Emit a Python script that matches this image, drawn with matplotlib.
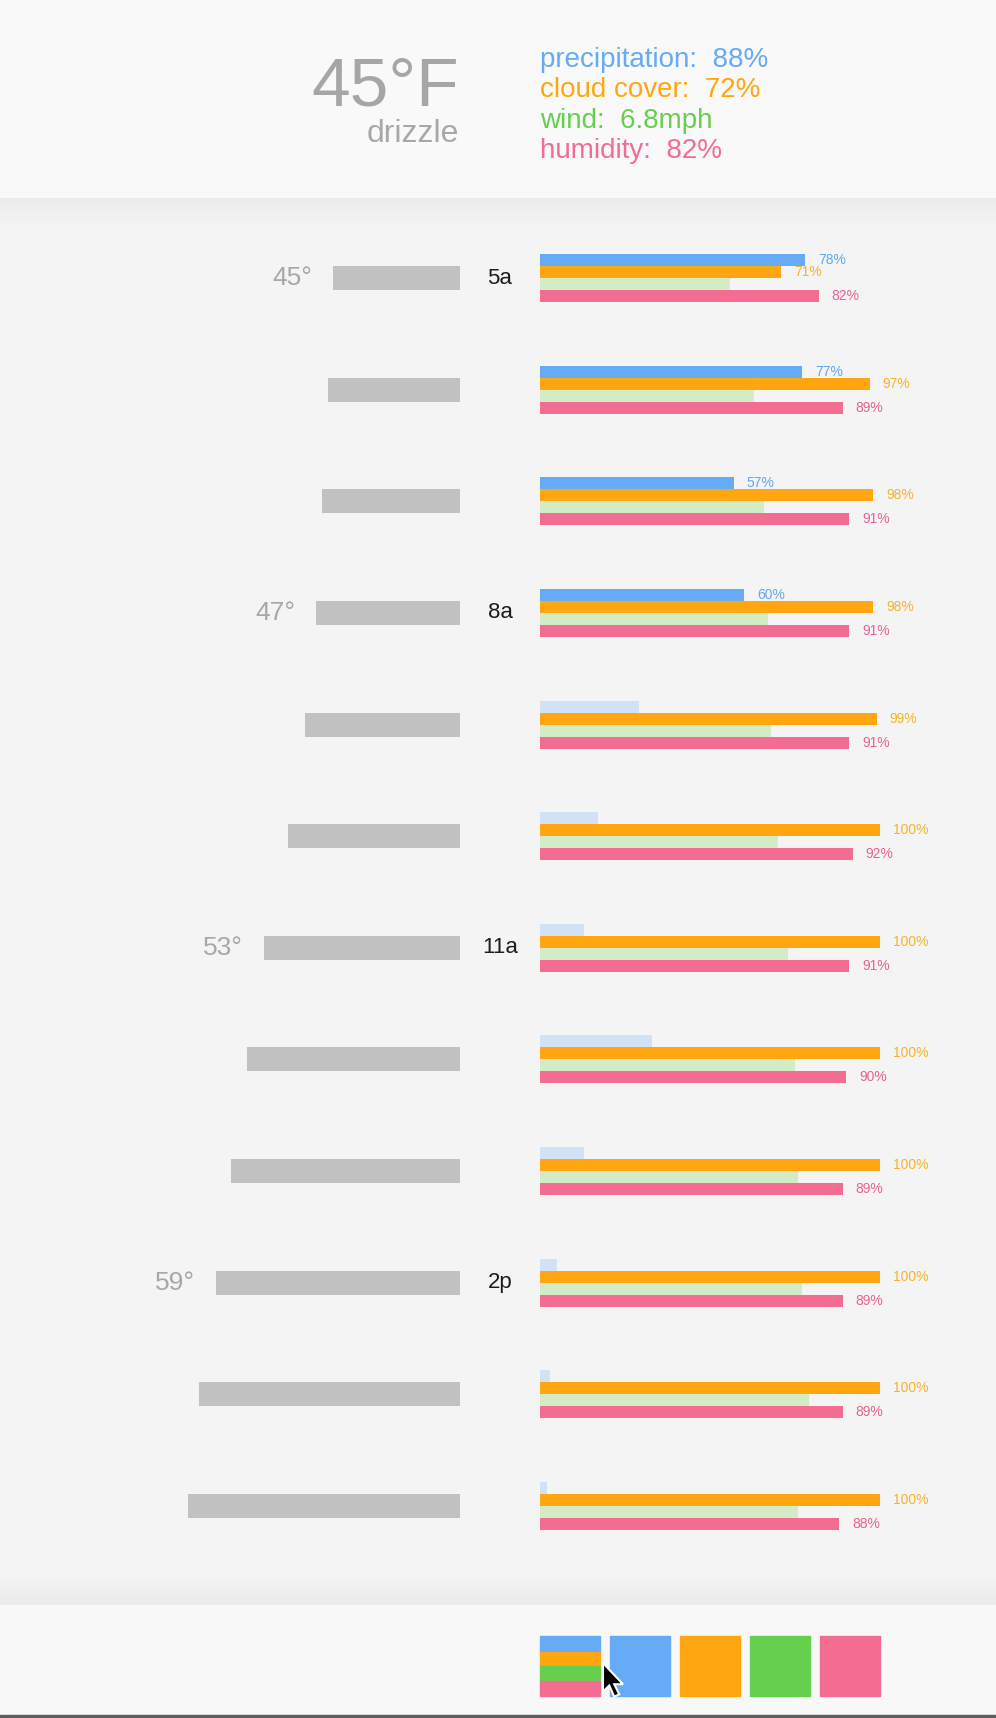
import numpy as np
import matplotlib
matplotlib.use("Agg")
import matplotlib.pyplot as plt
from matplotlib.patches import Rectangle, Polygon

plt.rcParams['font.family'] = ['Liberation Sans', 'DejaVu Sans']

# hourly data (5a .. 4p)
temps = [45.0, 45.6, 46.3, 47.0, 48.3, 50.4, 53.2, 55.2, 57.2, 59.0, 61.0, 62.3]
time_labels = {0: "5a", 3: "8a", 6: "11a", 9: "2p"}
precip = [78, 77, 57, 60, 29, 17, 13, 33, 13, 5, 3, 2]
cloud = [71, 97, 98, 98, 99, 100, 100, 100, 100, 100, 100, 100]
wind = [56, 63, 66, 67, 68, 70, 73, 75, 76, 77, 79, 76]
humidity = [82, 89, 91, 91, 91, 92, 91, 90, 89, 89, 89, 88]

# current conditions
now_temp = "45°F"
now_summary = "drizzle"
now_lines = ["precipitation:  88%", "cloud cover:  72%", "wind:  6.8mph", "humidity:  82%"]

BLUE, ORANGE, GREEN, PINK = "#65abf5", "#ffa611", "#67cf4e", "#f36d92"
LIGHT_BLUE, LIGHT_GREEN = "#d2e2f6", "#d4ecc6"
LABEL_COLORS = ["#5fa8f2", "#f5b52c", "#67cf4e", "#e9638a"]
GREY_BAR = "#c1c1c1"
GREY_TEXT = "#a8a8a8"

W, H = 996, 1718
fig = plt.figure(figsize=(W / 100, H / 100), dpi=100)


def px_axes(x0, y0, x1, y1, **kw):
    return fig.add_axes([x0 / W, 1 - y1 / H, (x1 - x0) / W, (y1 - y0) / H], **kw)


# background panels in pixel space
bg = px_axes(0, 0, W, H)
bg.set_xlim(0, W)
bg.set_ylim(H, 0)
bg.axis('off')
bg.add_patch(Rectangle((0, 0), W, H, color="#f4f4f4", zorder=0))
bg.add_patch(Rectangle((0, 0), W, 198, color="#f9f9f9", zorder=1))
grad = np.linspace(0, 1, 50)[:, None]
bg.imshow(grad, extent=(0, W, 226, 198), cmap=matplotlib.colors.LinearSegmentedColormap.from_list(
    "s1", ["#ebebeb", "#f4f4f4"]), aspect='auto', zorder=1)
bg.imshow(grad, extent=(0, W, 1605, 1575), cmap=matplotlib.colors.LinearSegmentedColormap.from_list(
    "s2", ["#f4f4f4", "#ebebeb"]), aspect='auto', zorder=1)
bg.add_patch(Rectangle((0, 1605), W, 111, color="#f8f8f8", zorder=1))
bg.add_patch(Rectangle((0, 1715), W, 3, color="#5c5c5c", zorder=1))

# header
bg.text(459, 105, now_temp, fontsize=50, color="#a6a6a6", ha='right', va='baseline', zorder=3)
bg.text(459, 142, now_summary, fontsize=23, color="#a8a8a8", ha='right', va='baseline', zorder=3)
for i, (line, c) in enumerate(zip(now_lines, [BLUE, ORANGE, GREEN, PINK])):
    bg.text(540, 67 + i * 30.4, line, fontsize=20, color=c, ha='left', va='baseline', zorder=3)

# footer swatches
sw = 60
bg.add_patch(Rectangle((540, 1636), sw, 16, color=BLUE, zorder=3))
bg.add_patch(Rectangle((540, 1652), sw, 14, color=ORANGE, zorder=3))
bg.add_patch(Rectangle((540, 1666), sw, 15, color=GREEN, zorder=3))
bg.add_patch(Rectangle((540, 1681), sw, 15, color=PINK, zorder=3))
for i, c in enumerate([BLUE, ORANGE, GREEN, PINK]):
    bg.add_patch(Rectangle((610 + i * 70, 1636), sw, sw, color=c, zorder=3))

# mouse pointer
cur = np.array([(0, 0), (0, 23), (5, 18), (9, 27), (13, 25), (9, 17), (16, 17)]) * 1.25
bg.add_patch(Polygon(cur + [603, 1663], closed=True, facecolor="black", edgecolor="white",
                     linewidth=1.5, zorder=4))

rows = np.arange(len(temps))
top, bottom = 222.2, 1561.8
row_px = (bottom - top) / len(temps)

# temperature bars, growing leftwards from x=460
base = 29.8
px_per_deg = 8.37
tax = px_axes(160, top, 460, bottom)
tax.set_xlim(base + 300 / px_per_deg, base)
tax.set_ylim(len(temps) - 0.5, -0.5)
tax.axis('off')
tax.barh(rows, np.array(temps) - base, left=base, height=24 / row_px, color=GREY_BAR)
for r in time_labels:
    tax.text(temps[r] + 21 / px_per_deg, r, f"{round(temps[r])}°", fontsize=19,
             color=GREY_TEXT, ha='right', va='center', clip_on=False)

# metric bars, 0..100% over 340 px
max_ax = px_axes(540, top, 880, bottom)
max_ax.set_xlim(0, 100)
max_ax.set_ylim(len(temps) - 0.5, -0.5)
max_ax.axis('off')
h = 12 / row_px
offsets = [-1.5 * h, -0.5 * h, 0.5 * h, 1.5 * h]
blue_cols = [BLUE if p >= 50 else LIGHT_BLUE for p in precip]
max_ax.barh(rows + offsets[0], precip, height=h, color=blue_cols)
max_ax.barh(rows + offsets[1], cloud, height=h, color=ORANGE)
max_ax.barh(rows + offsets[2], wind, height=h, color=LIGHT_GREEN)
max_ax.barh(rows + offsets[3], humidity, height=h, color=PINK)

gap = 13 / 3.4
for r in rows:
    if precip[r] >= 50:
        max_ax.text(precip[r] + gap, r + offsets[0], f"{precip[r]}%", fontsize=10,
                    color=LABEL_COLORS[0], ha='left', va='center', clip_on=False)
    max_ax.text(cloud[r] + gap, r + offsets[1], f"{cloud[r]}%", fontsize=10,
                color=LABEL_COLORS[1], ha='left', va='center', clip_on=False)
    max_ax.text(humidity[r] + gap, r + offsets[3], f"{humidity[r]}%", fontsize=10,
                color=LABEL_COLORS[3], ha='left', va='center', clip_on=False)

for r, lab in time_labels.items():
    max_ax.text(-40 / 3.4, r, lab, fontsize=16, color="#1c1c1c", ha='center', va='center',
                clip_on=False)

fig.savefig("out.png", dpi=100)
